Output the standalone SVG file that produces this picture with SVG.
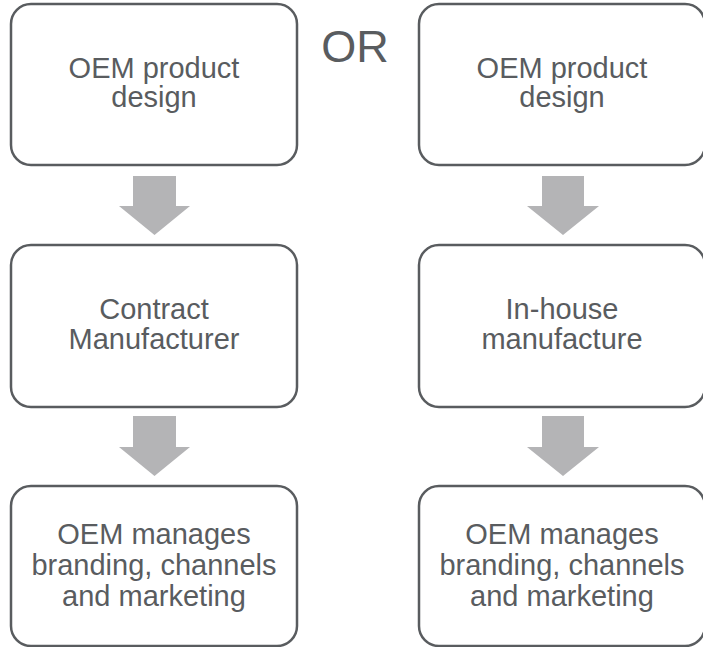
<svg xmlns="http://www.w3.org/2000/svg" width="703" height="647" viewBox="0 0 703 647">
<style>
.box{fill:#ffffff;stroke:#595c5f;stroke-width:2.5}
.t{font-family:"Liberation Sans",Arial,sans-serif;font-size:29px;fill:#595c5f;text-anchor:middle}
.arr{fill:#b4b4b6}
</style>
<rect width="703" height="647" fill="#ffffff"/>
<g id="connectors">
<polygon class="arr" points="133,176 176,176 176,206 190,206 154.5,235 119,206 133,206"/>
<polygon class="arr" points="133,416 176,416 176,447 190,447 154.5,476 119,447 133,447"/>
<polygon class="arr" points="542,176 584,176 584,206 599,206 563,235 527,206 542,206"/>
<polygon class="arr" points="542,416 584,416 584,447 599,447 563,476 527,447 542,447"/>
</g>
<g id="or"><text class="t" x="355" y="62" style="font-size:45px">OR</text></g>
<g id="left-design">
<rect class="box" x="11" y="4" width="286" height="161" rx="20"/>
<text class="t" x="154" y="78">OEM product</text>
<text class="t" x="154" y="107">design</text>
</g>
<g id="left-contract">
<rect class="box" x="11" y="245" width="286" height="162" rx="20"/>
<text class="t" x="154" y="319">Contract</text>
<text class="t" x="154" y="349">Manufacturer</text>
</g>
<g id="left-oem">
<rect class="box" x="11" y="486" width="286" height="160" rx="20"/>
<text class="t" x="154" y="544">OEM manages</text>
<text class="t" x="154" y="575">branding, channels</text>
<text class="t" x="154" y="606">and marketing</text>
</g>
<g id="right-design">
<rect class="box" x="419" y="4" width="286" height="161" rx="20"/>
<text class="t" x="562" y="78">OEM product</text>
<text class="t" x="562" y="107">design</text>
</g>
<g id="right-inhouse">
<rect class="box" x="419" y="245" width="286" height="162" rx="20"/>
<text class="t" x="562" y="319">In-house</text>
<text class="t" x="562" y="349">manufacture</text>
</g>
<g id="right-oem">
<rect class="box" x="419" y="486" width="286" height="160" rx="20"/>
<text class="t" x="562" y="544">OEM manages</text>
<text class="t" x="562" y="575">branding, channels</text>
<text class="t" x="562" y="606">and marketing</text>
</g>
</svg>
